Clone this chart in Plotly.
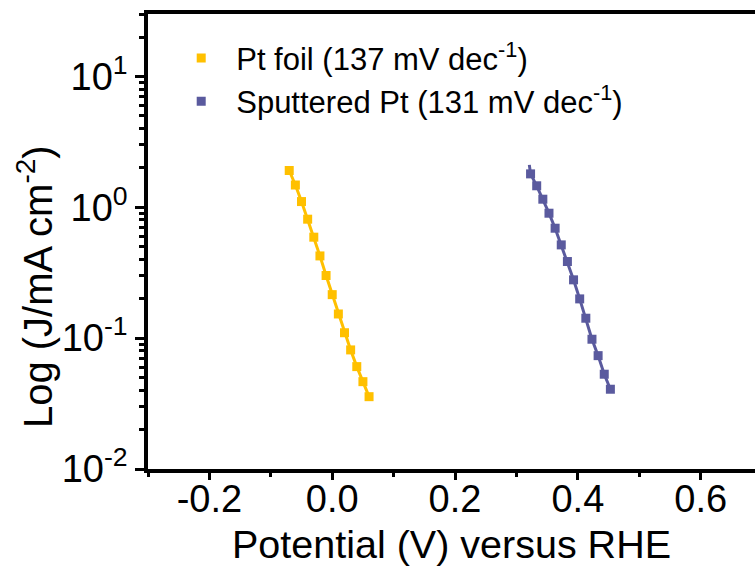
import plotly.graph_objects as go

# ---- data ----
foil_x = [-0.07, -0.06, -0.05, -0.04, -0.03, -0.02, -0.01, 0.00, 0.01, 0.02, 0.03, 0.04, 0.05, 0.06]
foil_j = [1.91, 1.48, 1.106, 0.811, 0.591, 0.425, 0.301, 0.215, 0.153, 0.110, 0.0813, 0.0606, 0.0465, 0.0357]

sput_x = [0.323, 0.333, 0.343, 0.353, 0.363, 0.373, 0.383, 0.393, 0.403, 0.413, 0.423, 0.433, 0.443, 0.453]
sput_j = [1.80, 1.46, 1.153, 0.901, 0.692, 0.516, 0.385, 0.279, 0.1995, 0.142, 0.0981, 0.0735, 0.0530, 0.0407]
sput_line_x = [0.321, 0.323, 0.333, 0.343, 0.353, 0.363, 0.373, 0.383, 0.393, 0.403, 0.413, 0.423, 0.433, 0.443, 0.453]
sput_line_j = [2.11, 1.80, 1.46, 1.153, 0.901, 0.692, 0.516, 0.385, 0.279, 0.1995, 0.142, 0.0981, 0.0735, 0.0530, 0.0407]

series_names = ["Pt foil (137 mV dec<sup>-1</sup>)", "Sputtered Pt (131 mV dec<sup>-1</sup>)"]

x_tickvals = [-0.2, 0.0, 0.2, 0.4, 0.6]
x_ticktext = ["-0.2", "0.0", "0.2", "0.4", "0.6"]
x_minorvals = [-0.3, -0.1, 0.1, 0.3, 0.5]
y_tickvals = [0.01, 0.1, 1, 10]
y_ticktext = ["10<sup>-2</sup>", "10<sup>-1</sup>", "10<sup>0</sup>", "10<sup>1</sup>"]

YELLOW = "#FFC000"
PURPLE = "#5A5A9E"
FONT = "Liberation Sans, Arial, sans-serif"

fig = go.Figure()
fig.add_trace(go.Scatter(x=foil_x, y=foil_j, mode="lines", line=dict(color=YELLOW, width=3),
                         showlegend=False, hoverinfo="skip"))
fig.add_trace(go.Scatter(x=sput_line_x, y=sput_line_j, mode="lines", line=dict(color=PURPLE, width=3),
                         showlegend=False, hoverinfo="skip"))
fig.add_trace(go.Scatter(x=foil_x, y=foil_j, mode="markers", name=series_names[0],
                         marker=dict(symbol="square", size=9, color=YELLOW)))
fig.add_trace(go.Scatter(x=sput_x, y=sput_j, mode="markers", name=series_names[1],
                         marker=dict(symbol="square", size=9, color=PURPLE)))

fig.update_layout(
    width=755, height=572,
    margin=dict(l=148, r=0, t=14, b=103),
    paper_bgcolor="white", plot_bgcolor="white",
    font=dict(family=FONT, color="black", size=36),
    legend=dict(x=0.03, y=0.962, xanchor="left", yanchor="top",
                font=dict(size=31, family=FONT), itemwidth=60,
                bgcolor="rgba(0,0,0,0)", tracegroupgap=0),
    annotations=[dict(text="Log (J/mA cm<sup>-2</sup>)", textangle=-90,
                      xref="paper", yref="paper", x=-0.186, y=0.40,
                      xanchor="center", yanchor="middle", showarrow=False,
                      font=dict(size=40, family=FONT))],
)
fig.update_xaxes(
    range=[-0.3, 0.6885], tickvals=x_tickvals, ticktext=x_ticktext,
    ticks="outside", ticklen=7, tickwidth=3, tickcolor="black",
    showline=True, linewidth=3.5, linecolor="black", mirror=True,
    showgrid=False, zeroline=False,
    minor=dict(tickvals=x_minorvals, ticks="outside", ticklen=4, tickwidth=3, tickcolor="black", showgrid=False),
    tickfont=dict(size=38, family=FONT), ticklabelstandoff=-13,
    title=dict(text="Potential (V) versus RHE", font=dict(size=39.5, family=FONT), standoff=12),
)
fig.update_yaxes(
    type="log", range=[-2, 1.4771], tickvals=y_tickvals, ticktext=y_ticktext,
    ticks="outside", ticklen=9, tickwidth=3, tickcolor="black",
    showline=True, linewidth=3.5, linecolor="black", mirror=False,
    showgrid=False, zeroline=False,
    minor=dict(dtick="D1", ticks="outside", ticklen=5, tickwidth=2.5, tickcolor="black", showgrid=False),
    tickfont=dict(size=38, family=FONT),
)

fig.write_html("out.html")
